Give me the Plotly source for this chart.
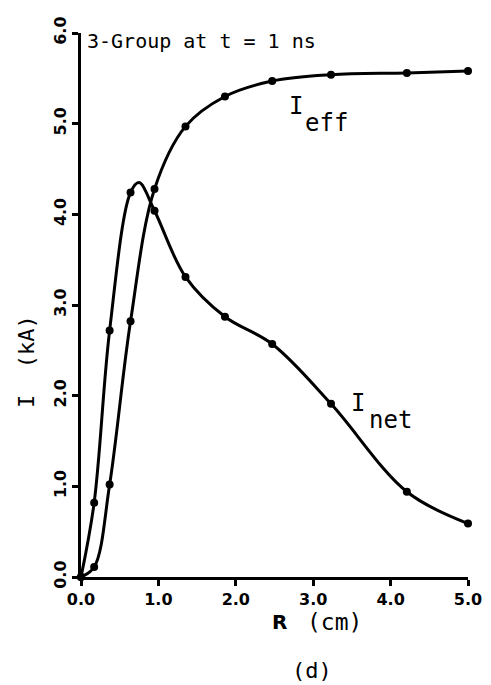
import plotly.graph_objects as go

R = [0.0, 0.17, 0.37, 0.64, 0.95, 1.35, 1.86, 2.47, 3.23, 4.21, 5.0]
I_net = [0.0, 0.82, 2.72, 4.24, 4.04, 3.31, 2.87, 2.57, 1.91, 0.94, 0.59]
I_eff = [0.0, 0.11, 1.02, 2.82, 4.28, 4.97, 5.30, 5.47, 5.54, 5.56, 5.58]
# crest of the I_net curve (no marker there)
R_net_peak = 0.75
I_net_peak = 4.35
x_ticks = [0, 1, 2, 3, 4, 5]
x_ticklabels = ["0.0", "1.0", "2.0", "3.0", "4.0", "5.0"]
y_ticks = [0, 1, 2, 3, 4, 5, 6]
y_ticklabels = ["0.0", "1.0", "2.0", "3.0", "4.0", "5.0", "6.0"]

# page body has an 8px margin: plot area spans x 81..468, y 33..577 in the window
PX0, PX1, PY0, PY1 = 81, 468, 33, 577
def px(x):
    return (x - PX0) / (PX1 - PX0)
def py(y):
    return (PY1 - y) / (PY1 - PY0)

k = 4
R_net_line = R[:k] + [R_net_peak] + R[k:]
I_net_line = I_net[:k] + [I_net_peak] + I_net[k:]

fig = go.Figure()
line_style = dict(color="black", width=3, shape="spline", smoothing=1.0)
fig.add_trace(go.Scatter(x=R_net_line, y=I_net_line, mode="lines", line=line_style,
                         cliponaxis=False, showlegend=False))
fig.add_trace(go.Scatter(x=R, y=I_eff, mode="lines", line=line_style,
                         cliponaxis=False, showlegend=False))
for ys in (I_net, I_eff):
    fig.add_trace(go.Scatter(x=R, y=ys, mode="markers",
                             marker=dict(color="black", size=8),
                             cliponaxis=False, showlegend=False))

tickfont = dict(family="DejaVu Sans", size=16, color="black", weight="bold")
fig.update_layout(
    width=483, height=677,
    margin=dict(l=PX0 - 8, r=491 - PX1, t=PY0 - 8, b=677 - (PY1 - 8), autoexpand=False),
    paper_bgcolor="white", plot_bgcolor="white",
    xaxis=dict(range=[0, 5], tickvals=x_ticks, ticktext=x_ticklabels,
               showline=True, linecolor="black", linewidth=2.5,
               ticks="outside", ticklen=6, tickwidth=2.5, tickcolor="black",
               showgrid=False, zeroline=False, tickfont=tickfont,
               automargin=False, ticklabeloverflow="allow"),
    yaxis=dict(range=[0, 6], tickvals=y_ticks, ticktext=y_ticklabels,
               showline=True, linecolor="black", linewidth=2.5,
               ticks="outside", ticklen=6, tickwidth=2.5, tickcolor="black",
               showgrid=False, zeroline=False, tickfont=tickfont, tickangle=-90,
               automargin=False, ticklabeloverflow="allow"),
)

mono = "DejaVu Sans Mono"
def label(text, x, y, size=22, family=mono, angle=0, anchor="center"):
    fig.add_annotation(text=text, xref="paper", yref="paper", x=px(x), y=py(y),
                       xanchor=anchor, yanchor="middle", textangle=angle,
                       showarrow=False,
                       font=dict(family=family, size=size, color="black"))

label("3-Group at t = 1 ns", 85, 41, size=20, anchor="left")
label("I", 296, 106, size=24)
label("eff", 326, 123, size=24)
label("I", 358, 403, size=24)
label("net", 390, 420, size=24)
label("<b>R</b>", 279, 622, size=20, family="DejaVu Sans")
label("(cm)", 334, 622, size=23)
label("(d)", 312, 670, size=22)
label("I  (kA)", 26, 362, size=22, angle=-90)

fig.write_html("out.html")
